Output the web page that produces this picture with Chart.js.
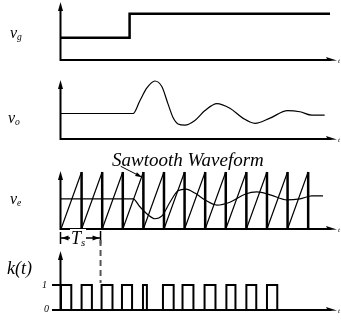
<!DOCTYPE html>
<html>
<head>
<meta charset="utf-8">
<script src="https://cdn.jsdelivr.net/npm/chart.js@4.4.0/dist/chart.umd.min.js"></script>
<style>
html, body { margin: 0; padding: 0; background: #fff; }
#wrap { position: relative; width: 341px; height: 322px; overflow: hidden;
        font-family: "Liberation Serif", "DejaVu Serif", serif; font-style: italic; color: #000; }
#wrap canvas { position: absolute; left: 0; top: 0; }
.lbl { position: absolute; white-space: nowrap; line-height: 1; }
.lbl sub { font-size: 0.6em; vertical-align: baseline; position: relative; top: 0.2em; }
</style>
</head>
<body>
<div id="wrap">
  <canvas id="cVg" width="341" height="322"></canvas>
  <canvas id="cVo" width="341" height="322"></canvas>
  <canvas id="cVe" width="341" height="322"></canvas>
  <canvas id="cK" width="341" height="322"></canvas>

  <div class="lbl" style="left:10px;top:25px;font-size:16px">v<sub>g</sub></div>
  <div class="lbl" style="left:8px;top:110px;font-size:16px">v<sub>o</sub></div>
  <div class="lbl" style="left:10px;top:191px;font-size:16px">v<sub>e</sub></div>
  <div class="lbl" style="left:7px;top:259px;font-size:18px">k(t)</div>
  <div class="lbl" style="left:42px;top:280px;font-size:10px">1</div>
  <div class="lbl" style="left:44px;top:304px;font-size:10px">0</div>
  <div class="lbl" style="left:112px;top:150px;font-size:19px">Sawtooth Waveform</div>
  <div class="lbl" style="left:70px;top:229px;font-size:18px;background:#fff;padding:0 1px">T<sub>s</sub></div>
  <div class="lbl" style="left:338px;top:58px;font-size:7px">t</div>
  <div class="lbl" style="left:338px;top:137px;font-size:7px">t</div>
  <div class="lbl" style="left:338px;top:227px;font-size:7px">t</div>
  <div class="lbl" style="left:338px;top:308px;font-size:7px">t</div>
</div>

<script>
// time in units of the sawtooth period
const T_MAX = 13.4;

// v_g: input step
const vgTime  = [0, 3.33, 3.33, 13.06];
const vgLevel = [0.39, 0.39, 0.81, 0.81];

// v_o: output response
const voTime  = [0, 3.5, 3.83, 4.17, 4.56, 4.9, 5.19, 5.44, 5.68, 6.02, 6.5, 6.99, 7.57, 8.2, 8.83, 9.42, 10.15, 11.0, 11.6, 12.18, 12.8];
const voLevel = [0.44, 0.44, 0.66, 0.88, 1.0, 0.90, 0.61, 0.37, 0.26, 0.24, 0.32, 0.49, 0.61, 0.53, 0.36, 0.27, 0.36, 0.49, 0.47, 0.41, 0.41];

// v_e: error / control voltage
const veTime  = [0, 3.5, 3.83, 4.22, 4.56, 4.9, 5.29, 5.68, 6.07, 6.5, 6.99, 7.57, 8.2, 8.93, 9.51, 10.15, 10.97, 11.6, 12.18, 12.72];
const veLevel = [0.53, 0.53, 0.39, 0.25, 0.18, 0.23, 0.47, 0.67, 0.70, 0.63, 0.51, 0.42, 0.47, 0.61, 0.65, 0.60, 0.51, 0.53, 0.58, 0.58];

// sawtooth teeth
const sawStarts = [0, 1, 2, 3, 4, 5, 6, 7, 8, 9, 10, 11];
const sawPeriod = 1;
const sawPeak = 1;

// k(t) switching pulses
const pulseOn  = [0.0, 1.0, 1.97, 2.96, 3.98, 4.95, 5.9, 6.97, 8.03, 9.0, 10.0];
const pulseOff = [0.5, 1.5, 2.5, 3.45, 4.17, 5.47, 6.43, 7.5, 8.47, 9.48, 10.5];
const kLevels = [0, 1];
const tsEnd = 1.92;

// layout
const AXIS_LEFT = 61, AXIS_RIGHT = 337, H = 322;

const zip = (xs, ys) => xs.map((x, i) => ({ x: x, y: ys[i] }));

const arrowAxes = {
  id: 'arrowAxes',
  afterDatasetsDraw(chart) {
    const { ctx, chartArea: a } = chart;
    const x0 = a.left - 0.5, y0 = a.bottom;
    ctx.save();
    ctx.strokeStyle = '#000';
    ctx.fillStyle = '#000';
    ctx.lineWidth = 2;
    ctx.beginPath();
    ctx.moveTo(x0, y0 + 1);
    ctx.lineTo(x0, a.top + 5);
    ctx.moveTo(x0 - 1, y0);
    ctx.lineTo(a.right - 6, y0);
    ctx.stroke();
    // y arrow
    ctx.beginPath();
    ctx.moveTo(x0, a.top - 1);
    ctx.lineTo(x0 - 2.5, a.top + 8);
    ctx.lineTo(x0 + 2.5, a.top + 8);
    ctx.closePath();
    ctx.fill();
    // x arrow
    ctx.beginPath();
    ctx.moveTo(a.right, y0 + 0.5);
    ctx.lineTo(a.right - 11, y0 - 3);
    ctx.lineTo(a.right - 9, y0 + 1);
    ctx.closePath();
    ctx.fill();
    ctx.restore();
  }
};

function panelOptions(top, bottom, yMax) {
  return {
    responsive: false,
    animation: false,
    events: [],
    layout: { padding: { left: AXIS_LEFT, right: 341 - AXIS_RIGHT, top: top, bottom: H - bottom } },
    elements: { point: { radius: 0 } },
    plugins: { legend: { display: false }, tooltip: { enabled: false } },
    scales: {
      x: { type: 'linear', min: 0, max: T_MAX, display: false },
      y: { type: 'linear', min: 0, max: yMax, display: false }
    }
  };
}

// v_g
new Chart(document.getElementById('cVg'), {
  type: 'line',
  data: { datasets: [{
    data: zip(vgTime, vgLevel), borderColor: '#000', borderWidth: 2.5, tension: 0, clip: false
  }] },
  options: panelOptions(3, 60, 1),
  plugins: [arrowAxes]
});

// v_o
new Chart(document.getElementById('cVo'), {
  type: 'line',
  data: { datasets: [{
    data: zip(voTime, voLevel), borderColor: '#000', borderWidth: 1.2,
    cubicInterpolationMode: 'monotone', clip: false
  }] },
  options: panelOptions(81, 139, 1),
  plugins: [arrowAxes]
});

// v_e with sawtooth
const rampPts = [], dropPts = [];
sawStarts.forEach(s => {
  rampPts.push({ x: s, y: 0 }, { x: s + sawPeriod, y: sawPeak }, { x: s + sawPeriod, y: null });
  dropPts.push({ x: s + sawPeriod, y: sawPeak }, { x: s + sawPeriod, y: 0 }, { x: s + sawPeriod + 0.01, y: null });
});

const sawNote = {
  id: 'sawNote',
  afterDatasetsDraw(chart) {
    const { ctx, scales: { x, y } } = chart;
    const x1 = x.getPixelForValue(2.9), y1 = y.getPixelForValue(1.1);
    const x2 = x.getPixelForValue(3.93), y2 = y.getPixelForValue(0.91);
    const ang = Math.atan2(y2 - y1, x2 - x1);
    ctx.save();
    ctx.strokeStyle = '#000';
    ctx.fillStyle = '#000';
    ctx.lineWidth = 1;
    ctx.beginPath();
    ctx.moveTo(x1, y1);
    ctx.lineTo(x2, y2);
    ctx.stroke();
    ctx.beginPath();
    ctx.moveTo(x2, y2);
    ctx.lineTo(x2 - 7 * Math.cos(ang - 0.3), y2 - 7 * Math.sin(ang - 0.3));
    ctx.lineTo(x2 - 7 * Math.cos(ang + 0.3), y2 - 7 * Math.sin(ang + 0.3));
    ctx.closePath();
    ctx.fill();
    ctx.restore();
  }
};

new Chart(document.getElementById('cVe'), {
  type: 'line',
  data: { datasets: [
    { data: rampPts, borderColor: '#000', borderWidth: 1.2, spanGaps: false, tension: 0, clip: false },
    { data: dropPts, borderColor: '#000', borderWidth: 2.5, spanGaps: false, tension: 0, clip: false },
    { data: zip(veTime, veLevel), borderColor: '#000', borderWidth: 1.2,
      cubicInterpolationMode: 'monotone', clip: false }
  ] },
  options: panelOptions(172, 229, 1),
  plugins: [arrowAxes, sawNote]
});

// k(t)
const kPts = [];
pulseOn.forEach((on, i) => {
  kPts.push({ x: on, y: 0 }, { x: on, y: 1 }, { x: pulseOff[i], y: 1 }, { x: pulseOff[i], y: 0 });
});

const kExtras = {
  id: 'kExtras',
  afterDatasetsDraw(chart) {
    const { ctx, chartArea: a, scales: { x, y } } = chart;
    ctx.save();
    ctx.strokeStyle = '#000';
    ctx.fillStyle = '#000';
    // level ticks
    ctx.lineWidth = 2;
    kLevels.forEach(v => {
      const py = y.getPixelForValue(v);
      ctx.beginPath();
      ctx.moveTo(a.left - 9, py);
      ctx.lineTo(a.left, py);
      ctx.stroke();
    });
    // T_s bracket
    const bx0 = x.getPixelForValue(0) - 0.5, bx1 = x.getPixelForValue(tsEnd);
    const by = 238;
    ctx.lineWidth = 1.5;
    ctx.beginPath();
    ctx.moveTo(bx0, by - 6); ctx.lineTo(bx0, by + 6);
    ctx.moveTo(bx1, 231); ctx.lineTo(bx1, by + 6);
    ctx.moveTo(bx0, by); ctx.lineTo(bx1, by);
    ctx.stroke();
    [[bx0, 1], [bx1, -1]].forEach(([px, d]) => {
      ctx.beginPath();
      ctx.moveTo(px + d, by);
      ctx.lineTo(px + d * 8, by - 2.5);
      ctx.lineTo(px + d * 8, by + 2.5);
      ctx.closePath();
      ctx.fill();
    });
    // dashed guide
    ctx.strokeStyle = '#555';
    ctx.lineWidth = 2;
    ctx.setLineDash([6, 4]);
    ctx.beginPath();
    ctx.moveTo(bx1, by + 2);
    ctx.lineTo(bx1, y.getPixelForValue(1) - 2);
    ctx.stroke();
    ctx.restore();
  }
};

new Chart(document.getElementById('cK'), {
  type: 'line',
  data: { datasets: [{
    data: kPts, borderColor: '#000', borderWidth: 2, tension: 0, clip: false
  }] },
  options: panelOptions(252, 310, 2.32),
  plugins: [arrowAxes, kExtras]
});
</script>
</body>
</html>
